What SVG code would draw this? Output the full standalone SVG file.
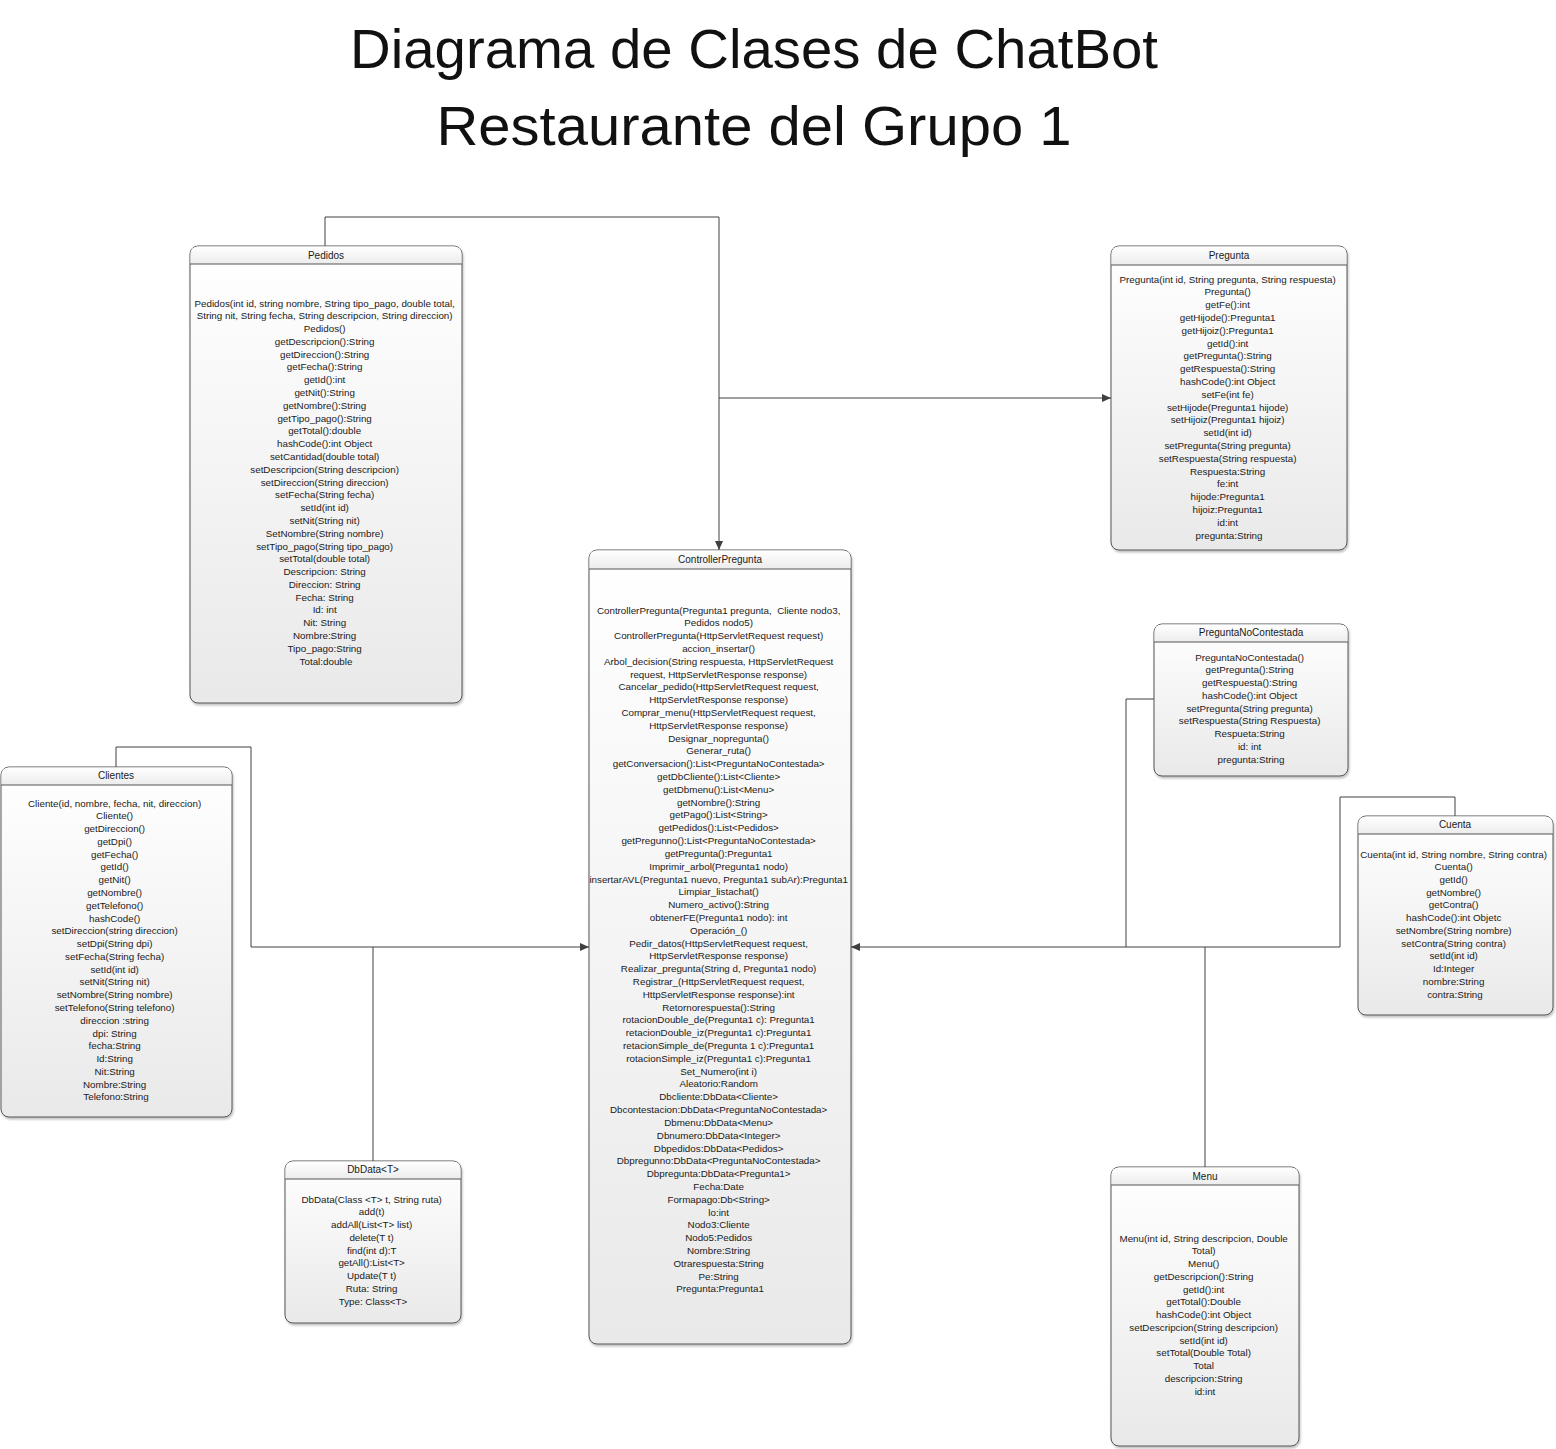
<svg xmlns="http://www.w3.org/2000/svg" width="1556" height="1449" viewBox="0 0 1556 1449">
<defs>
<linearGradient id="gBody" x1="0" y1="0" x2="0" y2="1">
<stop offset="0" stop-color="#ffffff"/>
<stop offset="1" stop-color="#e9e9e9"/>
</linearGradient>
<linearGradient id="gHead" x1="0" y1="0" x2="0" y2="1">
<stop offset="0" stop-color="#ffffff"/>
<stop offset="1" stop-color="#ececec"/>
</linearGradient>
<filter id="sh" x="-5%" y="-5%" width="110%" height="110%">
<feDropShadow dx="1" dy="2" stdDeviation="1.2" flood-color="#000" flood-opacity="0.25"/>
</filter>
<marker id="arr" markerUnits="userSpaceOnUse" markerWidth="10" markerHeight="8" refX="9" refY="4" orient="auto">
<path d="M0,0 L9,4 L0,8 Z" fill="#404040"/>
</marker>
</defs>
<style>
.box{fill:url(#gBody);stroke:#555;stroke-width:1;filter:url(#sh)}
.head{fill:url(#gHead);stroke:none}
.hl{stroke:#555;stroke-width:1}
.ttl{font-family:"Liberation Sans",Arial,sans-serif;font-size:10px;fill:#1a1a1a;text-anchor:middle}
.t{font-family:"Liberation Sans",Arial,sans-serif;font-size:9.8px;fill:#1a1a1a;text-anchor:middle}
.big{font-family:"Liberation Sans",Arial,sans-serif;font-size:56px;fill:#111;text-anchor:middle}
.c{fill:none;stroke:#404040;stroke-width:1}
</style>
<rect width="1556" height="1449" fill="#ffffff"/>
<g id="title">
<text class="big" x="754" y="68" textLength="808" lengthAdjust="spacingAndGlyphs">Diagrama de Clases de ChatBot</text>
<text class="big" x="754" y="145" textLength="635" lengthAdjust="spacingAndGlyphs">Restaurante del Grupo 1</text>
</g>
<g id="connectors">
<path class="c" d="M325,246 V217 H719 V550" marker-end="url(#arr)"/>
<path class="c" d="M719,398 H1111" marker-end="url(#arr)"/>
<path class="c" d="M116,767 V747 H251 V947 H589" marker-end="url(#arr)"/>
<path class="c" d="M373,1161 V947"/>
<path class="c" d="M1154,699 H1126 V947 H851" marker-end="url(#arr)"/>
<path class="c" d="M1455,816 V797 H1340 V947 H1126"/>
<path class="c" d="M1205,1167 V947"/>
</g>
<g id="pedidos">
<rect class="box" x="190" y="246" width="272" height="457" rx="8"/>
<path class="head" d="M190.5,264 V254 Q190.5,246.5 198,246.5 H454 Q461.5,246.5 461.5,254 V264 Z"/>
<line class="hl" x1="190" y1="264" x2="462" y2="264"/>
<text class="ttl" x="326" y="258.5">Pedidos</text>
<text class="t" x="326" y="306.5">
<tspan x="326">Pedidos(int id, string nombre, String tipo_pago, double total,</tspan>
<tspan x="326" dy="12.79">String nit, String fecha, String descripcion, String direccion)</tspan>
<tspan x="326" dy="12.79">Pedidos()</tspan>
<tspan x="326" dy="12.79">getDescripcion():String</tspan>
<tspan x="326" dy="12.79">getDireccion():String</tspan>
<tspan x="326" dy="12.79">getFecha():String</tspan>
<tspan x="326" dy="12.79">getId():int</tspan>
<tspan x="326" dy="12.79">getNit():String</tspan>
<tspan x="326" dy="12.79">getNombre():String</tspan>
<tspan x="326" dy="12.79">getTipo_pago():String</tspan>
<tspan x="326" dy="12.79">getTotal():double</tspan>
<tspan x="326" dy="12.79">hashCode():int Object</tspan>
<tspan x="326" dy="12.79">setCantidad(double total)</tspan>
<tspan x="326" dy="12.79">setDescripcion(String descripcion)</tspan>
<tspan x="326" dy="12.79">setDireccion(String direccion)</tspan>
<tspan x="326" dy="12.79">setFecha(String fecha)</tspan>
<tspan x="326" dy="12.79">setId(int id)</tspan>
<tspan x="326" dy="12.79">setNit(String nit)</tspan>
<tspan x="326" dy="12.79">SetNombre(String nombre)</tspan>
<tspan x="326" dy="12.79">setTipo_pago(String tipo_pago)</tspan>
<tspan x="326" dy="12.79">setTotal(double total)</tspan>
<tspan x="326" dy="12.79">Descripcion: String</tspan>
<tspan x="326" dy="12.79">Direccion: String</tspan>
<tspan x="326" dy="12.79">Fecha: String</tspan>
<tspan x="326" dy="12.79">Id: int</tspan>
<tspan x="326" dy="12.79">Nit: String</tspan>
<tspan x="326" dy="12.79">Nombre:String</tspan>
<tspan x="326" dy="12.79">Tipo_pago:String</tspan>
<tspan x="326" dy="12.79">Total:double</tspan>
</text>
</g>
<g id="pregunta">
<rect class="box" x="1111" y="246" width="236" height="304" rx="8"/>
<path class="head" d="M1111.5,265 V254 Q1111.5,246.5 1119,246.5 H1339 Q1346.5,246.5 1346.5,254 V265 Z"/>
<line class="hl" x1="1111" y1="265" x2="1347" y2="265"/>
<text class="ttl" x="1229" y="258.5">Pregunta</text>
<text class="t" x="1229" y="282.5">
<tspan x="1229">Pregunta(int id, String pregunta, String respuesta)</tspan>
<tspan x="1229" dy="12.8">Pregunta()</tspan>
<tspan x="1229" dy="12.8">getFe():int</tspan>
<tspan x="1229" dy="12.8">getHijode():Pregunta1</tspan>
<tspan x="1229" dy="12.8">getHijoiz():Pregunta1</tspan>
<tspan x="1229" dy="12.8">getId():int</tspan>
<tspan x="1229" dy="12.8">getPregunta():String</tspan>
<tspan x="1229" dy="12.8">getRespuesta():String</tspan>
<tspan x="1229" dy="12.8">hashCode():int Object</tspan>
<tspan x="1229" dy="12.8">setFe(int fe)</tspan>
<tspan x="1229" dy="12.8">setHijode(Pregunta1 hijode)</tspan>
<tspan x="1229" dy="12.8">setHijoiz(Pregunta1 hijoiz)</tspan>
<tspan x="1229" dy="12.8">setId(int id)</tspan>
<tspan x="1229" dy="12.8">setPregunta(String pregunta)</tspan>
<tspan x="1229" dy="12.8">setRespuesta(String respuesta)</tspan>
<tspan x="1229" dy="12.8">Respuesta:String</tspan>
<tspan x="1229" dy="12.8">fe:int</tspan>
<tspan x="1229" dy="12.8">hijode:Pregunta1</tspan>
<tspan x="1229" dy="12.8">hijoiz:Pregunta1</tspan>
<tspan x="1229" dy="12.8">id:int</tspan>
<tspan x="1229" dy="12.8">pregunta:String</tspan>
</text>
</g>
<g id="controllerpregunta">
<rect class="box" x="589" y="550" width="262" height="794" rx="8"/>
<path class="head" d="M589.5,569 V558 Q589.5,550.5 597,550.5 H843 Q850.5,550.5 850.5,558 V569 Z"/>
<line class="hl" x1="589" y1="569" x2="851" y2="569"/>
<text class="ttl" x="720" y="563">ControllerPregunta</text>
<text class="t" x="720" y="613.5">
<tspan x="720" xml:space="preserve">ControllerPregunta(Pregunta1 pregunta,  Cliente nodo3,</tspan>
<tspan x="720" dy="12.81">Pedidos nodo5)</tspan>
<tspan x="720" dy="12.81">ControllerPregunta(HttpServletRequest request)</tspan>
<tspan x="720" dy="12.81">accion_insertar()</tspan>
<tspan x="720" dy="12.81">Arbol_decision(String respuesta, HttpServletRequest</tspan>
<tspan x="720" dy="12.81">request, HttpServletResponse response)</tspan>
<tspan x="720" dy="12.81">Cancelar_pedido(HttpServletRequest request,</tspan>
<tspan x="720" dy="12.81">HttpServletResponse response)</tspan>
<tspan x="720" dy="12.81">Comprar_menu(HttpServletRequest request,</tspan>
<tspan x="720" dy="12.81">HttpServletResponse response)</tspan>
<tspan x="720" dy="12.81">Designar_nopregunta()</tspan>
<tspan x="720" dy="12.81">Generar_ruta()</tspan>
<tspan x="720" dy="12.81">getConversacion():List&lt;PreguntaNoContestada&gt;</tspan>
<tspan x="720" dy="12.81">getDbCliente():List&lt;Cliente&gt;</tspan>
<tspan x="720" dy="12.81">getDbmenu():List&lt;Menu&gt;</tspan>
<tspan x="720" dy="12.81">getNombre():String</tspan>
<tspan x="720" dy="12.81">getPago():List&lt;String&gt;</tspan>
<tspan x="720" dy="12.81">getPedidos():List&lt;Pedidos&gt;</tspan>
<tspan x="720" dy="12.81">getPregunno():List&lt;PreguntaNoContestada&gt;</tspan>
<tspan x="720" dy="12.81">getPregunta():Pregunta1</tspan>
<tspan x="720" dy="12.81">Imprimir_arbol(Pregunta1 nodo)</tspan>
<tspan x="720" dy="12.81">insertarAVL(Pregunta1 nuevo, Pregunta1 subAr):Pregunta1</tspan>
<tspan x="720" dy="12.81">Limpiar_listachat()</tspan>
<tspan x="720" dy="12.81">Numero_activo():String</tspan>
<tspan x="720" dy="12.81">obtenerFE(Pregunta1 nodo): int</tspan>
<tspan x="720" dy="12.81">Operación_()</tspan>
<tspan x="720" dy="12.81">Pedir_datos(HttpServletRequest request,</tspan>
<tspan x="720" dy="12.81">HttpServletResponse response)</tspan>
<tspan x="720" dy="12.81">Realizar_pregunta(String d, Pregunta1 nodo)</tspan>
<tspan x="720" dy="12.81">Registrar_(HttpServletRequest request,</tspan>
<tspan x="720" dy="12.81">HttpServletResponse response):int</tspan>
<tspan x="720" dy="12.81">Retornorespuesta():String</tspan>
<tspan x="720" dy="12.81">rotacionDouble_de(Pregunta1 c): Pregunta1</tspan>
<tspan x="720" dy="12.81">retacionDouble_iz(Pregunta1 c):Pregunta1</tspan>
<tspan x="720" dy="12.81">retacionSimple_de(Pregunta 1 c):Pregunta1</tspan>
<tspan x="720" dy="12.81">rotacionSimple_iz(Pregunta1 c):Pregunta1</tspan>
<tspan x="720" dy="12.81">Set_Numero(int i)</tspan>
<tspan x="720" dy="12.81">Aleatorio:Random</tspan>
<tspan x="720" dy="12.81">Dbcliente:DbData&lt;Cliente&gt;</tspan>
<tspan x="720" dy="12.81">Dbcontestacion:DbData&lt;PreguntaNoContestada&gt;</tspan>
<tspan x="720" dy="12.81">Dbmenu:DbData&lt;Menu&gt;</tspan>
<tspan x="720" dy="12.81">Dbnumero:DbData&lt;Integer&gt;</tspan>
<tspan x="720" dy="12.81">Dbpedidos:DbData&lt;Pedidos&gt;</tspan>
<tspan x="720" dy="12.81">Dbpregunno:DbData&lt;PreguntaNoContestada&gt;</tspan>
<tspan x="720" dy="12.81">Dbpregunta:DbData&lt;Pregunta1&gt;</tspan>
<tspan x="720" dy="12.81">Fecha:Date</tspan>
<tspan x="720" dy="12.81">Formapago:Db&lt;String&gt;</tspan>
<tspan x="720" dy="12.81">lo:int</tspan>
<tspan x="720" dy="12.81">Nodo3:Cliente</tspan>
<tspan x="720" dy="12.81">Nodo5:Pedidos</tspan>
<tspan x="720" dy="12.81">Nombre:String</tspan>
<tspan x="720" dy="12.81">Otrarespuesta:String</tspan>
<tspan x="720" dy="12.81">Pe:String</tspan>
<tspan x="720" dy="12.81">Pregunta:Pregunta1</tspan>
</text>
</g>
<g id="clientes">
<rect class="box" x="1" y="767" width="231" height="350" rx="8"/>
<path class="head" d="M1.5,785 V775 Q1.5,767.5 9,767.5 H224 Q231.5,767.5 231.5,775 V785 Z"/>
<line class="hl" x1="1" y1="785" x2="232" y2="785"/>
<text class="ttl" x="116" y="778.5">Clientes</text>
<text class="t" x="116" y="806.5">
<tspan x="116">Cliente(id, nombre, fecha, nit, direccion)</tspan>
<tspan x="116" dy="12.78">Cliente()</tspan>
<tspan x="116" dy="12.78">getDireccion()</tspan>
<tspan x="116" dy="12.78">getDpi()</tspan>
<tspan x="116" dy="12.78">getFecha()</tspan>
<tspan x="116" dy="12.78">getId()</tspan>
<tspan x="116" dy="12.78">getNit()</tspan>
<tspan x="116" dy="12.78">getNombre()</tspan>
<tspan x="116" dy="12.78">getTelefono()</tspan>
<tspan x="116" dy="12.78">hashCode()</tspan>
<tspan x="116" dy="12.78">setDireccion(string direccion)</tspan>
<tspan x="116" dy="12.78">setDpi(String dpi)</tspan>
<tspan x="116" dy="12.78">setFecha(String fecha)</tspan>
<tspan x="116" dy="12.78">setId(int id)</tspan>
<tspan x="116" dy="12.78">setNit(String nit)</tspan>
<tspan x="116" dy="12.78">setNombre(String nombre)</tspan>
<tspan x="116" dy="12.78">setTelefono(String telefono)</tspan>
<tspan x="116" dy="12.78">direccion :string</tspan>
<tspan x="116" dy="12.78">dpi: String</tspan>
<tspan x="116" dy="12.78">fecha:String</tspan>
<tspan x="116" dy="12.78">Id:String</tspan>
<tspan x="116" dy="12.78">Nit:String</tspan>
<tspan x="116" dy="12.78">Nombre:String</tspan>
<tspan x="116" dy="12.78">Telefono:String</tspan>
</text>
</g>
<g id="dbdata">
<rect class="box" x="285" y="1161" width="176" height="162" rx="8"/>
<path class="head" d="M285.5,1179 V1169 Q285.5,1161.5 293,1161.5 H453 Q460.5,1161.5 460.5,1169 V1179 Z"/>
<line class="hl" x1="285" y1="1179" x2="461" y2="1179"/>
<text class="ttl" x="373" y="1172.5">DbData&lt;T&gt;</text>
<text class="t" x="373" y="1202.5">
<tspan x="373">DbData(Class &lt;T&gt; t, String ruta)</tspan>
<tspan x="373" dy="12.75">add(t)</tspan>
<tspan x="373" dy="12.75">addAll(List&lt;T&gt; list)</tspan>
<tspan x="373" dy="12.75">delete(T t)</tspan>
<tspan x="373" dy="12.75">find(int d):T</tspan>
<tspan x="373" dy="12.75">getAll():List&lt;T&gt;</tspan>
<tspan x="373" dy="12.75">Update(T t)</tspan>
<tspan x="373" dy="12.75">Ruta: String</tspan>
<tspan x="373" dy="12.75">Type: Class&lt;T&gt;</tspan>
</text>
</g>
<g id="preguntanocontestada">
<rect class="box" x="1154" y="624" width="194" height="152" rx="8"/>
<path class="head" d="M1154.5,642 V632 Q1154.5,624.5 1162,624.5 H1340 Q1347.5,624.5 1347.5,632 V642 Z"/>
<line class="hl" x1="1154" y1="642" x2="1348" y2="642"/>
<text class="ttl" x="1251" y="635.5">PreguntaNoContestada</text>
<text class="t" x="1251" y="660.5">
<tspan x="1251">PreguntaNoContestada()</tspan>
<tspan x="1251" dy="12.75">getPregunta():String</tspan>
<tspan x="1251" dy="12.75">getRespuesta():String</tspan>
<tspan x="1251" dy="12.75">hashCode():int Object</tspan>
<tspan x="1251" dy="12.75">setPregunta(String pregunta)</tspan>
<tspan x="1251" dy="12.75">setRespuesta(String Respuesta)</tspan>
<tspan x="1251" dy="12.75">Respueta:String</tspan>
<tspan x="1251" dy="12.75">id: int</tspan>
<tspan x="1251" dy="12.75">pregunta:String</tspan>
</text>
</g>
<g id="cuenta">
<rect class="box" x="1358" y="816" width="195" height="199" rx="8"/>
<path class="head" d="M1358.5,834 V824 Q1358.5,816.5 1366,816.5 H1545 Q1552.5,816.5 1552.5,824 V834 Z"/>
<line class="hl" x1="1358" y1="834" x2="1553" y2="834"/>
<text class="ttl" x="1455" y="827.5">Cuenta</text>
<text class="t" x="1455" y="857.5">
<tspan x="1455">Cuenta(int id, String nombre, String contra)</tspan>
<tspan x="1455" dy="12.73">Cuenta()</tspan>
<tspan x="1455" dy="12.73">getId()</tspan>
<tspan x="1455" dy="12.73">getNombre()</tspan>
<tspan x="1455" dy="12.73">getContra()</tspan>
<tspan x="1455" dy="12.73">hashCode():int Objetc</tspan>
<tspan x="1455" dy="12.73">setNombre(String nombre)</tspan>
<tspan x="1455" dy="12.73">setContra(String contra)</tspan>
<tspan x="1455" dy="12.73">setId(int id)</tspan>
<tspan x="1455" dy="12.73">Id:Integer</tspan>
<tspan x="1455" dy="12.73">nombre:String</tspan>
<tspan x="1455" dy="12.73">contra:String</tspan>
</text>
</g>
<g id="menu">
<rect class="box" x="1111" y="1167" width="188" height="279" rx="8"/>
<path class="head" d="M1111.5,1185 V1175 Q1111.5,1167.5 1119,1167.5 H1291 Q1298.5,1167.5 1298.5,1175 V1185 Z"/>
<line class="hl" x1="1111" y1="1185" x2="1299" y2="1185"/>
<text class="ttl" x="1205" y="1179.5">Menu</text>
<text class="t" x="1205" y="1241.5">
<tspan x="1205">Menu(int id, String descripcion, Double</tspan>
<tspan x="1205" dy="12.75">Total)</tspan>
<tspan x="1205" dy="12.75">Menu()</tspan>
<tspan x="1205" dy="12.75">getDescripcion():String</tspan>
<tspan x="1205" dy="12.75">getId():int</tspan>
<tspan x="1205" dy="12.75">getTotal():Double</tspan>
<tspan x="1205" dy="12.75">hashCode():int Object</tspan>
<tspan x="1205" dy="12.75">setDescripcion(String descripcion)</tspan>
<tspan x="1205" dy="12.75">setId(int id)</tspan>
<tspan x="1205" dy="12.75">setTotal(Double Total)</tspan>
<tspan x="1205" dy="12.75">Total</tspan>
<tspan x="1205" dy="12.75">descripcion:String</tspan>
<tspan x="1205" dy="12.75">id:int</tspan>
</text>
</g>
</svg>
